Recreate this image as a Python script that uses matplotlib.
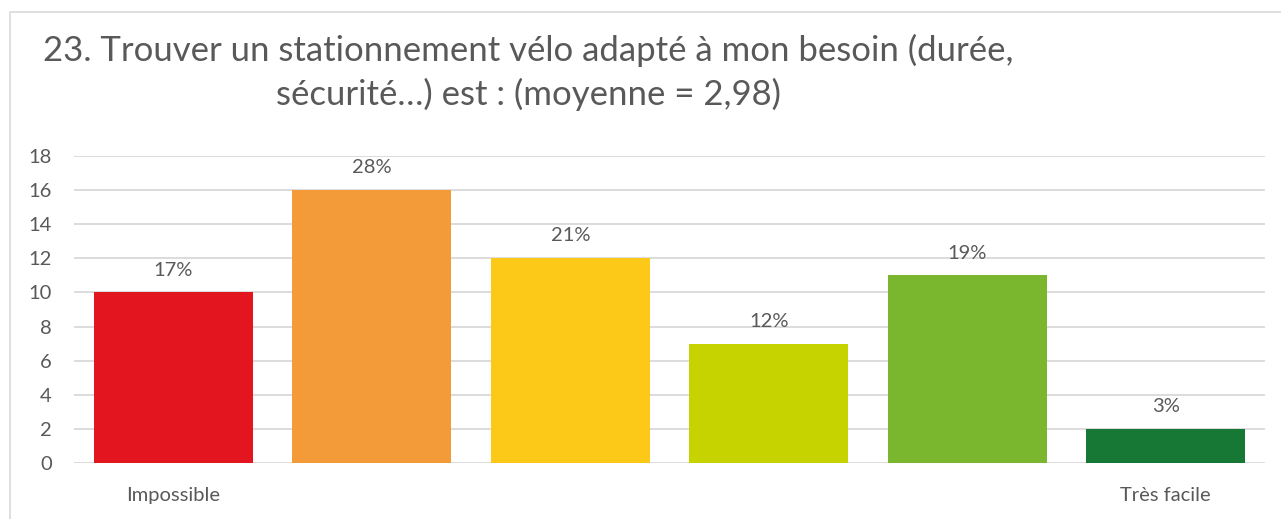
import numpy as np
import matplotlib.pyplot as plt
from matplotlib.patches import Rectangle

# survey answers, from "Impossible" (1) to "Très facile" (6)
categories = ['Impossible', '', '', '', '', 'Très facile']
counts = [10, 16, 12, 7, 11, 2]
shares = ['17%', '28%', '21%', '12%', '19%', '3%']
colors = ['#E3151F', '#F39B38', '#FCC918', '#C6D300', '#7AB72F', '#177835']
yticks = [0, 2, 4, 6, 8, 10, 12, 14, 16, 18]

title = ("23. Trouver un stationnement vélo adapté à mon besoin (durée,\n"
         "sécurité…) est : (moyenne = 2,98)")

W, H = 1281, 519
text_col = '#595959'
grid_col = '#D9D9D9'

plt.rcParams['font.family'] = ['Lato', 'DejaVu Sans']

fig = plt.figure(figsize=(W / 100, H / 100), dpi=100)

# chart frame
fig.patches.append(Rectangle((10 / W, -0.1), 1.2, (H - 12) / H + 0.1,
                             transform=fig.transFigure, fill=False,
                             edgecolor='#D9D9D9', lw=1.2))

ax = fig.add_axes([74 / W, (H - 463) / H, (1265 - 74) / W, (463 - 156) / H])
x = np.arange(len(counts))
bars = ax.bar(x, counts, width=0.8, color=colors, zorder=3)

for b, s in zip(bars, shares):
    ax.annotate(s, (b.get_x() + b.get_width() / 2, b.get_height()),
                xytext=(0, 10), textcoords='offset points',
                ha='center', va='bottom', fontsize=14.5, color=text_col)

ax.set_xlim(-0.5, len(counts) - 0.5)
ax.set_ylim(0, 18)
ax.set_yticks(yticks)
ax.set_xticks(x)
ax.set_xticklabels(categories)
ax.tick_params(axis='both', length=0, labelsize=14.5, labelcolor=text_col)
ax.tick_params(axis='y', pad=16)
ax.tick_params(axis='x', pad=17)
ax.grid(axis='y', color=grid_col, lw=1.3, zorder=0)
for sp in ax.spines.values():
    sp.set_visible(False)

fig.text(528 / W, (H - 72) / H, title, ha='center', va='center',
         multialignment='center', fontsize=25, color=text_col, linespacing=1.4)

fig.savefig('out.png', dpi=100)
